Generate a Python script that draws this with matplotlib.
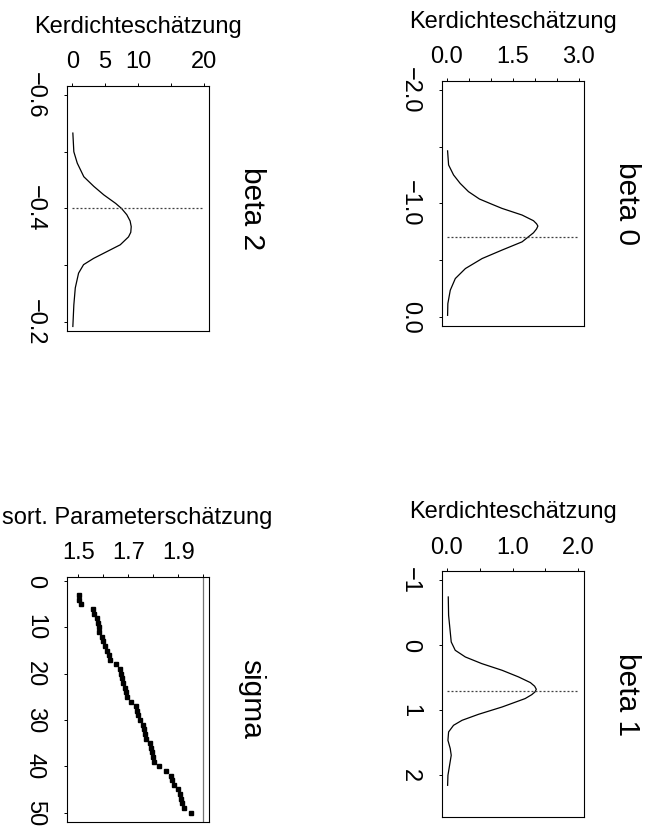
import numpy as np
import matplotlib
matplotlib.use('Agg')
import matplotlib.pyplot as plt

plt.rcParams['font.family'] = ['Liberation Sans', 'DejaVu Sans']

MINUS = '\u2212'

# kernel density estimates (parameter value, density)
beta2_x = [-0.533, -0.500, -0.480, -0.456, -0.439, -0.424, -0.409, -0.400, -0.389,
           -0.378, -0.368, -0.358, -0.350, -0.336, -0.324, -0.312, -0.301, -0.286,
           -0.260, -0.230, -0.192]
beta2_d = [0.09, 0.24, 0.76, 1.76, 3.28, 4.8, 6.6, 7.5, 8.3,
           8.8, 8.97, 8.9, 8.56, 7.3, 5.27, 3.24, 1.72, 0.96,
           0.46, 0.24, 0.09]
beta2_true = -0.4

beta0_x = [-1.462, -1.338, -1.250, -1.176, -1.103, -1.038, -0.991, -0.956, -0.897,
           -0.847, -0.820, -0.800, -0.775, -0.741, -0.661, -0.588, -0.514, -0.426,
           -0.338, -0.235, -0.117, -0.014]
beta0_d = [0.014, 0.037, 0.15, 0.30, 0.49, 0.74, 1.03, 1.25, 1.71,
           1.97, 2.04, 2.07, 2.04, 1.97, 1.71, 1.25, 0.80, 0.42,
           0.19, 0.075, 0.02, 0.014]
beta0_true = -0.7

beta1_x = [-0.743, -0.462, -0.205, -0.051, 0.077, 0.18, 0.282, 0.385, 0.487, 0.574,
           0.630, 0.677, 0.718, 0.760, 0.82, 0.949, 1.062, 1.154, 1.231, 1.333,
           1.462, 1.589, 1.692, 1.846, 2.0, 2.154]
beta1_d = [0.02, 0.025, 0.05, 0.065, 0.126, 0.28, 0.53, 0.84, 1.09, 1.27,
           1.335, 1.36, 1.34, 1.29, 1.19, 0.84, 0.48, 0.23, 0.10, 0.025,
           0.015, 0.05, 0.065, 0.04, 0.015, 0.01]
beta1_true = 0.7

# sorted sigma estimates (index 3..50)
sigma_idx = np.arange(3, 51)
sigma_vals = [1.503, 1.504, 1.512, 1.560, 1.564, 1.577, 1.580, 1.583, 1.585, 1.597,
              1.601, 1.607, 1.616, 1.623, 1.627, 1.653, 1.667, 1.671, 1.675, 1.681,
              1.687, 1.692, 1.696, 1.713, 1.731, 1.736, 1.741, 1.747, 1.760, 1.764,
              1.768, 1.773, 1.787, 1.791, 1.795, 1.800, 1.804, 1.824, 1.851, 1.871,
              1.876, 1.884, 1.900, 1.907, 1.911, 1.916, 1.923, 1.953]
sigma_true = 2.0

FS = 17
W, H = 655, 827
fig = plt.figure(figsize=(W / 100, H / 100), dpi=100)


def panel(box, vlim, dlim, vticks, vlabels, dticks, dlabels, xlabel, title):
    # box in pixels: left, top, right, bottom
    l, t, r, b = box
    ax = fig.add_axes([l / W, 1 - b / H, (r - l) / W, (b - t) / H])
    ax.set_ylim(vlim[1], vlim[0])
    ax.set_xlim(*dlim)
    ax.xaxis.tick_top()
    ax.set_xticks(dticks, dlabels)
    ax.set_yticks(vticks, vlabels, rotation=-90, va='center')
    ax.tick_params(axis='x', direction='out', length=2.5, width=0.7, pad=6.5, labelsize=FS)
    ax.tick_params(axis='y', direction='out', length=2.5, width=0.7, pad=12.5, labelsize=FS)
    for s in ax.spines.values():
        s.set_linewidth(0.8)
    ax.text(0.5, 1.216, xlabel, transform=ax.transAxes, ha='center', va='baseline',
            fontsize=FS)
    ax.text(1.205, 0.5, title, transform=ax.transAxes, ha='left', va='center',
            rotation=-90, fontsize=21.5)
    return ax


dot = dict(color='0.25', lw=0.9, ls=(0, (1.6, 1.6)))

# beta 2
ax = panel((67, 86, 209, 331), (-0.616, -0.184), (-0.8, 20.8),
           [-0.6, -0.5, -0.4, -0.3, -0.2], [MINUS + '0.6', '', MINUS + '0.4', '', MINUS + '0.2'],
           [0, 5, 10, 15, 20], ['0', '5', '10', '', '20'],
           'Kerdichteschätzung', 'beta 2')
ax.plot(beta2_d, beta2_x, color='black', lw=0.9)
ax.hlines(beta2_true, 0, 20, **dot)

# beta 0
ax = panel((441.7, 80.7, 584, 326), (-2.08, 0.08), (-0.12, 3.12),
           [-2.0, -1.5, -1.0, -0.5, 0.0], [MINUS + '2.0', '', MINUS + '1.0', '', '0.0'],
           [0, 0.5, 1.0, 1.5, 2.0, 2.5, 3.0], ['0.0', '', '', '1.5', '', '', '3.0'],
           'Kerdichteschätzung', 'beta 0')
ax.plot(beta0_d, beta0_x, color='black', lw=0.9)
ax.hlines(beta0_true, 0, 3, **dot)

# sigma
ax = panel((66.7, 576.7, 208.5, 821.7), (-0.96, 51.96), (1.454, 2.021),
           [0, 10, 20, 30, 40, 50], ['0', '10', '20', '30', '40', '50'],
           [1.5, 1.6, 1.7, 1.8, 1.9, 2.0], ['1.5', '', '1.7', '', '1.9', ''],
           'sort. Parameterschätzung', 'sigma')
ax.plot(sigma_vals, sigma_idx, 's', color='black', ms=2.9)
ax.axvline(sigma_true, color='0.45', lw=0.9)

# beta 1
ax = panel((441.7, 571.3, 583.6, 816.9), (-1.138, 2.64), (-0.08, 2.08),
           [-1, 0, 1, 2], [MINUS + '1', '0', '1', '2'],
           [0, 0.5, 1.0, 1.5, 2.0], ['0.0', '', '1.0', '', '2.0'],
           'Kerdichteschätzung', 'beta 1')
ax.plot(beta1_d, beta1_x, color='black', lw=0.9)
ax.hlines(beta1_true, 0, 2, **dot)

fig.savefig('out.png', dpi=100)
